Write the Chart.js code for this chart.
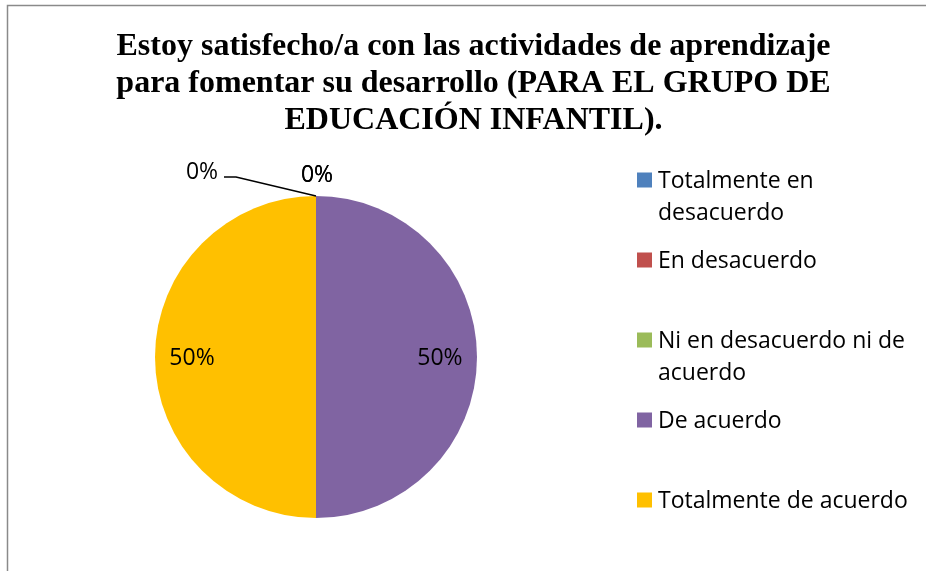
<!DOCTYPE html>
<html>
<head>
<meta charset="utf-8">
<script src="https://cdn.jsdelivr.net/npm/chart.js@4.4.1/dist/chart.umd.min.js"></script>
<style>
    html, body { margin: 0; padding: 0; background: #fff; }
    #wrap { width: 926px; height: 571px; }
</style>
</head>
<body>
<div id="wrap"><canvas id="pie" width="926" height="571"></canvas></div>
<script>
const titleLines = [
    'Estoy satisfecho/a con las actividades de aprendizaje',
    'para fomentar su desarrollo (PARA EL GRUPO DE',
    'EDUCACIÓN INFANTIL).'
];
const categories = [
    'Totalmente en desacuerdo',
    'En desacuerdo',
    'Ni en desacuerdo ni de acuerdo',
    'De acuerdo',
    'Totalmente de acuerdo'
];
const percentages = [0, 0, 0, 50, 50];
const sliceColors = ['#4F81BD', '#C0504D', '#9BBB59', '#8064A2', '#FFC000'];

const labelFont = '23px "Open Sans"';

// frame + title drawn behind the pie
const framePlugin = {
    id: 'frame',
    beforeDraw(chart) {
        const ctx = chart.ctx;
        ctx.save();
        ctx.strokeStyle = '#8a8a8a';
        ctx.lineWidth = 1.5;
        ctx.beginPath();
        ctx.moveTo(7.5, chart.height);
        ctx.lineTo(7.5, 5.5);
        ctx.lineTo(chart.width, 5.5);
        ctx.stroke();

        ctx.fillStyle = '#000';
        ctx.font = 'bold 32px "Liberation Serif"';
        ctx.textAlign = 'center';
        ctx.textBaseline = 'alphabetic';
        titleLines.forEach((line, i) => {
            ctx.fillText(line, 473.5, 55 + i * 37);
        });
        ctx.restore();
    }
};

// percentage labels on / around the slices
const sliceLabels = {
    id: 'sliceLabels',
    afterDatasetsDraw(chart) {
        const ctx = chart.ctx;
        const meta = chart.getDatasetMeta(0);
        ctx.save();
        ctx.font = labelFont;
        ctx.fillStyle = '#000';
        ctx.textAlign = 'center';
        ctx.textBaseline = 'middle';
        let zeros = 0;
        meta.data.forEach((arc, i) => {
            const p = arc.getProps(['x', 'y', 'startAngle', 'endAngle', 'outerRadius'], true);
            const text = percentages[i] + '%';
            if (percentages[i] > 0) {
                const mid = (p.startAngle + p.endAngle) / 2;
                const r = p.outerRadius * 0.77;
                ctx.fillText(text, p.x + Math.cos(mid) * r, p.y + Math.sin(mid) * r + 1);
            } else {
                const ax = p.x + Math.cos(p.startAngle) * p.outerRadius;
                const ay = p.y + Math.sin(p.startAngle) * p.outerRadius;
                if (zeros === 0) {
                    ctx.strokeStyle = '#000';
                    ctx.lineWidth = 1.5;
                    ctx.beginPath();
                    ctx.moveTo(ax, ay);
                    ctx.lineTo(ax - 80, ay - 19);
                    ctx.lineTo(ax - 92, ay - 19);
                    ctx.stroke();
                    ctx.fillText(text, ax - 114, ay - 24);
                } else {
                    ctx.fillText(text, ax + 1, ay - 21);
                }
                zeros++;
            }
        });
        ctx.restore();
    }
};

// legend on the right, with wrapped labels
const sideLegend = {
    id: 'sideLegend',
    afterDraw(chart) {
        const ctx = chart.ctx;
        ctx.save();
        ctx.font = labelFont;
        ctx.textAlign = 'left';
        ctx.textBaseline = 'middle';
        const boxX = 637, textX = 658, maxW = 262;
        categories.forEach((name, i) => {
            const y = 180 + i * 80;
            ctx.fillStyle = sliceColors[i];
            ctx.fillRect(boxX, y - 7.5, 15, 15);

            const words = name.split(' ');
            const lines = [];
            let cur = '';
            words.forEach(w => {
                const test = cur ? cur + ' ' + w : w;
                if (ctx.measureText(test).width > maxW && cur) {
                    lines.push(cur);
                    cur = w;
                } else {
                    cur = test;
                }
            });
            lines.push(cur);

            ctx.fillStyle = '#000';
            lines.forEach((l, k) => ctx.fillText(l, textX, y + 1 + k * 32));
        });
        ctx.restore();
    }
};

new Chart(document.getElementById('pie'), {
    type: 'pie',
    data: {
        labels: categories,
        datasets: [{
            data: percentages,
            backgroundColor: sliceColors,
            borderWidth: 0,
            hoverOffset: 0
        }]
    },
    options: {
        responsive: false,
        animation: false,
        devicePixelRatio: 1,
        radius: 161,
        layout: {
            padding: { left: 155, right: 449, top: 196, bottom: 53 }
        },
        plugins: {
            legend: { display: false },
            tooltip: { enabled: false },
            title: { display: false }
        }
    },
    plugins: [framePlugin, sliceLabels, sideLegend]
});
</script>
</body>
</html>
